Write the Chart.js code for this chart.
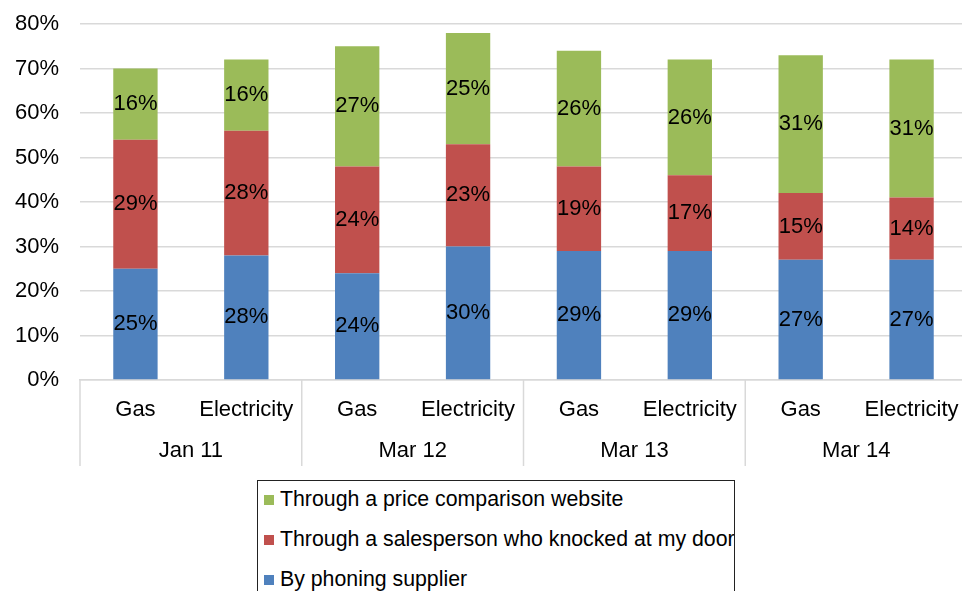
<!DOCTYPE html>
<html>
<head>
<meta charset="utf-8">
<script src="https://cdn.jsdelivr.net/npm/chart.js@4/dist/chart.umd.min.js"></script>
<style>
  html, body { margin: 0; padding: 0; background: #fff; overflow: hidden; }
  #wrap { position: relative; width: 962px; height: 591px; overflow: hidden; }
  #legend {
    position: absolute; left: 257px; top: 480px; width: 476px; height: 130px;
    border: 1px solid #222; overflow: hidden; background: #fff;
    font-family: "Liberation Sans", Arial, sans-serif; font-size: 21.3px; color: #000;
  }
  #legend div { position: absolute; left: 6px; white-space: nowrap; line-height: 24px; }
  #legend span { display: inline-block; width: 10px; height: 10px; margin-right: 6px; vertical-align: 1px; }
</style>
</head>
<body>
<div id="wrap">
  <canvas id="chart" width="967" height="591"></canvas>
  <div id="legend"></div>
</div>
<script>
const categories = ["Gas", "Electricity", "Gas", "Electricity", "Gas", "Electricity", "Gas", "Electricity"];
const groups = ["Jan 11", "Mar 12", "Mar 13", "Mar 14"];
const phoning = [25, 28, 24, 30, 29, 29, 27, 27];
const salesperson = [29, 28, 24, 23, 19, 17, 15, 14];
const website = [16, 16, 27, 25, 26, 26, 31, 31];

const FONT = "'Liberation Sans', Arial, sans-serif";

// labels in the middle of each stacked segment
const segmentLabels = {
  id: "segmentLabels",
  afterDatasetsDraw(chart) {
    const ctx = chart.ctx;
    ctx.save();
    ctx.font = "22px " + FONT;
    ctx.fillStyle = "#000";
    ctx.textAlign = "center";
    ctx.textBaseline = "middle";
    chart.data.datasets.forEach((ds, i) => {
      chart.getDatasetMeta(i).data.forEach((bar, j) => {
        const p = bar.getProps(["x", "y", "base"], true);
        ctx.fillText(ds.data[j] + "%", p.x, (p.y + p.base) / 2);
      });
    });
    ctx.restore();
  }
};

// second row of the x axis: dates and separators
const groupAxis = {
  id: "groupAxis",
  afterDraw(chart) {
    const x = chart.scales.x;
    const ctx = chart.ctx;
    const top = chart.chartArea.bottom;
    const step = x.getPixelForValue(1) - x.getPixelForValue(0);
    ctx.save();
    ctx.strokeStyle = "#D9D9D9";
    ctx.lineWidth = 1.5;
    for (let i = 0; i <= groups.length; i++) {
      const px = x.getPixelForValue(2 * i) - step / 2;
      ctx.beginPath();
      ctx.moveTo(px, top);
      ctx.lineTo(px, top + 86);
      ctx.stroke();
    }
    ctx.font = "22px " + FONT;
    ctx.fillStyle = "#000";
    ctx.textAlign = "center";
    ctx.textBaseline = "middle";
    groups.forEach((g, i) => {
      const cx = (x.getPixelForValue(2 * i) + x.getPixelForValue(2 * i + 1)) / 2;
      ctx.fillText(g, cx, top + 71);
    });
    ctx.restore();
  }
};

const chart = new Chart(document.getElementById("chart"), {
  type: "bar",
  data: {
    labels: categories,
    datasets: [
      { label: "By phoning supplier", data: phoning, backgroundColor: "#4F81BD" },
      { label: "Through a salesperson who knocked at my door", data: salesperson, backgroundColor: "#C0504D" },
      { label: "Through a price comparison website", data: website, backgroundColor: "#9BBB59" }
    ]
  },
  options: {
    responsive: false,
    animation: false,
    layout: { padding: { top: 24, right: 0, bottom: 121, left: 0 } },
    datasets: { bar: { barPercentage: 0.4, categoryPercentage: 1 } },
    plugins: { legend: { display: false }, tooltip: { enabled: false } },
    scales: {
      x: {
        stacked: true,
        grid: { display: false, drawTicks: true, tickLength: 17 },
        border: { display: true, color: "#D9D9D9", width: 1.5 },
        ticks: { autoSkip: false, maxRotation: 0, padding: 0, color: "#000", font: { family: FONT, size: 22 } },
        afterFit(scale) { scale.height = 90; }
      },
      y: {
        stacked: true,
        min: 0,
        max: 80,
        grid: { color: "#D9D9D9", lineWidth: 1.5, drawTicks: true, tickLength: 21, tickColor: "rgba(0,0,0,0)" },
        border: { display: false },
        ticks: { stepSize: 10, padding: 0, color: "#000", font: { family: FONT, size: 22 }, callback: v => v + "%" },
        afterFit(scale) { scale.width = 80; }
      }
    }
  },
  plugins: [segmentLabels, groupAxis]
});

// legend box, top item = last series, as in the original
const legend = document.getElementById("legend");
chart.data.datasets.slice().reverse().forEach((ds, i) => {
  const row = document.createElement("div");
  row.style.top = (6 + i * 40) + "px";
  row.innerHTML = '<span style="background:' + ds.backgroundColor + '"></span>' + ds.label;
  legend.appendChild(row);
});
</script>
</body>
</html>
